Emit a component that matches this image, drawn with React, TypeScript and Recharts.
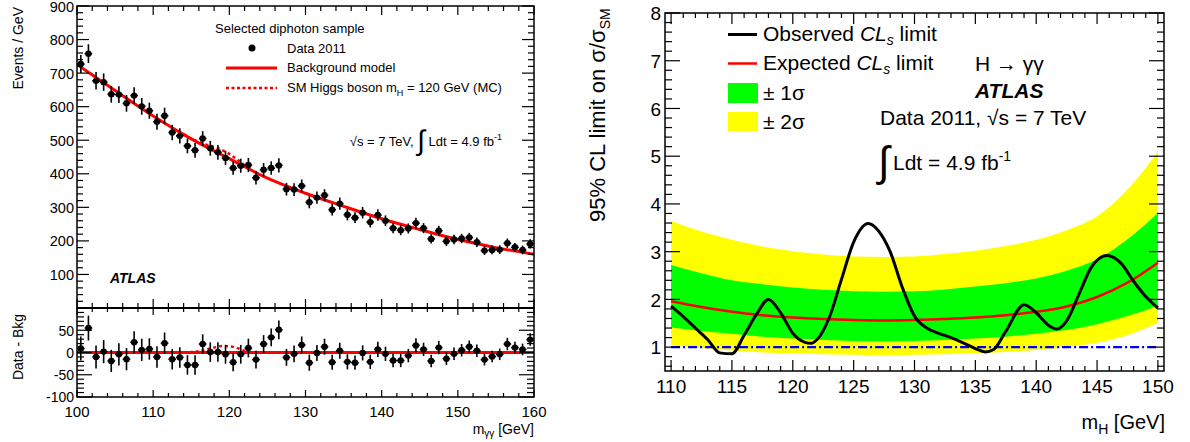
import React from 'react';
import { ComposedChart, Line, Scatter, ErrorBar, XAxis, YAxis, Area } from 'recharts';

const FONT = '"Liberation Sans", Arial, Helvetica, sans-serif';

// ---------- left: diphoton invariant mass, 1 GeV bins ----------
const binCentres = [
  100.5, 101.5, 102.5, 103.5, 104.5, 105.5, 106.5, 107.5, 108.5, 109.5,
  110.5, 111.5, 112.5, 113.5, 114.5, 115.5, 116.5, 117.5, 118.5, 119.5,
  120.5, 121.5, 122.5, 123.5, 124.5, 125.5, 126.5, 127.5, 128.5, 129.5,
  130.5, 131.5, 132.5, 133.5, 134.5, 135.5, 136.5, 137.5, 138.5, 139.5,
  140.5, 141.5, 142.5, 143.5, 144.5, 145.5, 146.5, 147.5, 148.5, 149.5,
  150.5, 151.5, 152.5, 153.5, 154.5, 155.5, 156.5, 157.5, 158.5, 159.5,
];
const events = [
  727, 758, 677, 673, 637, 636, 610, 633, 601, 588,
  555, 573, 523, 513, 483, 470, 505, 476, 464, 447,
  417, 424, 426, 388, 412, 417, 425, 354, 353, 364,
  315, 329, 336, 293, 311, 278, 269, 284, 256, 277,
  260, 238, 232, 237, 253, 238, 206, 230, 199, 204,
  207, 210, 196, 171, 173, 174, 193, 181, 173, 191,
];
const eventErr = [
  27, 28, 26, 26, 25, 25, 25, 25, 25, 24,
  24, 24, 23, 23, 22, 22, 22, 22, 22, 21,
  20, 21, 21, 20, 20, 20, 21, 19, 19, 19,
  18, 18, 18, 17, 18, 17, 16, 17, 16, 17,
  16, 15, 15, 15, 16, 15, 14, 15, 14, 14,
  14, 14, 14, 13, 13, 13, 14, 13, 13, 14,
];
const residuals = [
  9, 55, -10, 2, -19, -4, -15, 23, 6, 8,
  -10, 21, -15, -11, -28, -28, 19, 1, 1, -4,
  -22, -4, 10, -16, 19, 34, 51, -11, -3, 17,
  -23, -1, 13, -22, 4, -21, -23, -1, -21, 7,
  -3, -18, -18, -7, 16, 7, -19, 11, -14, -3,
  5, 13, 4, -16, -9, -4, 19, 11, 7, 29,
];

const bkgMass = [100, 105, 110, 115, 120, 125, 130, 135, 140, 145, 150, 155, 160];
const bkgEvents = [726, 648, 572, 504, 445, 387, 342, 303, 266, 234, 204, 180, 160];

const sigMass = [114, 115, 116, 117, 118, 119, 120, 121, 122, 123];
const sigOnBkg = [518, 505, 495, 487, 480, 471, 459, 443, 426, 410];
const sigResid = [0, 1, 3, 7, 11, 14.5, 14, 10, 4, 0];

// ---------- right: CLs limit vs mH ----------
const bandMass = [110, 112.5, 115, 117.5, 120, 122.5, 125, 127.5, 130, 132.5, 135, 137.5, 140, 142.5, 145, 147.5, 150];
const expected = [1.96, 1.84, 1.74, 1.67, 1.62, 1.59, 1.57, 1.56, 1.57, 1.59, 1.62, 1.67, 1.74, 1.85, 2.05, 2.35, 2.77];
const yellowHi = [3.65, 3.42, 3.25, 3.11, 3.01, 2.94, 2.9, 2.89, 2.9, 2.95, 3.02, 3.12, 3.25, 3.45, 3.74, 4.3, 5.1];
const greenHi = [2.72, 2.55, 2.4, 2.32, 2.25, 2.2, 2.17, 2.16, 2.17, 2.21, 2.27, 2.34, 2.44, 2.6, 2.84, 3.26, 3.81];
const greenLo = [1.41, 1.34, 1.28, 1.22, 1.18, 1.15, 1.13, 1.12, 1.13, 1.15, 1.18, 1.22, 1.28, 1.36, 1.48, 1.65, 1.86];
const yellowLo = [1.04, 0.98, 0.93, 0.89, 0.87, 0.85, 0.84, 0.83, 0.84, 0.85, 0.87, 0.9, 0.94, 1.0, 1.09, 1.25, 1.51];

const obsMass = [
  110, 111, 112, 113, 114, 115, 116, 117, 118, 119, 120, 121, 121.5, 122, 123, 124, 125, 126.2, 127, 128,
  129, 130, 131, 132, 133, 134, 135, 135.8, 136.5, 137.5, 139, 140, 141, 141.7, 142.5, 143.5, 144.5, 145.8,
  147, 148, 149, 150,
];
const obsLimit = [
  1.86, 1.64, 1.4, 1.16, 0.88, 0.86, 1.25, 1.68, 2.0, 1.72, 1.29, 1.1, 1.08, 1.16, 1.62, 2.42, 3.2, 3.59, 3.45, 3.0,
  2.25, 1.65, 1.4, 1.29, 1.2, 1.09, 0.97, 0.9, 0.95, 1.33, 1.89, 1.72, 1.46, 1.38, 1.55, 2.1, 2.66, 2.92,
  2.75, 2.38, 2.06, 1.82,
];
const smLineMass = [110, 150];
const smLineValue = [1, 1];

// ---------- ticks ----------
const steps = (a: number, b: number, s: number) => {
  const out: number[] = [];
  for (let v = a; v <= b + 1e-9; v += s) out.push(Math.round(v * 1000) / 1000);
  return out;
};
const massMajor = [100, 110, 120, 130, 140, 150, 160];
const eventsMajor = [100, 200, 300, 400, 500, 600, 700, 800, 900];
const residMajor = [-100, -50, 0, 50, 100];
const residLabels = [-100, -50, 0, 50];
const mhMajor = [110, 115, 120, 125, 130, 135, 140, 145, 150];
const limitMajor = [1, 2, 3, 4, 5, 6, 7, 8];

// ---------- rows ----------
const dataRows = binCentres.map((x, i) => ({ x, y: events[i], err: eventErr[i], xerr: 0.5 }));
const residRows = binCentres.map((x, i) => ({ x, y: residuals[i], err: eventErr[i], xerr: 0.5 }));
const bkgRows = bkgMass.map((x, i) => ({ x, y: bkgEvents[i] }));
const sigRows = sigMass.map((x, i) => ({ x, y: sigOnBkg[i] }));
const sigResRows = sigMass.map((x, i) => ({ x, y: sigResid[i] }));
const zeroRows = [{ x: 100, y: 0 }, { x: 160, y: 0 }];
const bandRows = bandMass.map((m, i) => ({
  m,
  exp: expected[i],
  yellow: [yellowLo[i], yellowHi[i]],
  green: [greenLo[i], greenHi[i]],
}));
const obsRows = obsMass.map((m, i) => ({ m, v: obsLimit[i] }));
const smRows = smLineMass.map((m, i) => ({ m, v: smLineValue[i] }));

interface Frame { top: number; bottom: number; left: number; right: number }

const has = (arr: number[], v: number) => arr.some((a) => Math.abs(a - v) < 1e-6);

const xTick = (f: Frame, major: number[], long: number, short: number, labels: number[], fs: number, gap: number) =>
  (props: any) => {
    const x = props.x;
    const v = props.payload.value;
    const len = has(major, v) ? long : short;
    return (
      <g>
        <line x1={x} x2={x} y1={f.bottom} y2={f.bottom - len} stroke="#000" strokeWidth={1.2} />
        <line x1={x} x2={x} y1={f.top} y2={f.top + len} stroke="#000" strokeWidth={1.2} />
        {has(labels, v) && (
          <text x={x} y={f.bottom + gap} textAnchor="middle" fontSize={fs} fontFamily={FONT} fill="#000">{v}</text>
        )}
      </g>
    );
  };

const yTick = (f: Frame, major: number[], long: number, short: number, labels: number[], fs: number, gap: number) =>
  (props: any) => {
    const y = props.y;
    const v = props.payload.value;
    const len = has(major, v) ? long : short;
    return (
      <g>
        <line x1={f.left} x2={f.left + len} y1={y} y2={y} stroke="#000" strokeWidth={1.2} />
        <line x1={f.right} x2={f.right - len} y1={y} y2={y} stroke="#000" strokeWidth={1.2} />
        {has(labels, v) && (
          <text x={f.left - gap} y={y} dy="0.38em" textAnchor="end" fontSize={fs} fontFamily={FONT} fill="#000">{v}</text>
        )}
      </g>
    );
  };

const dot = (p: any) => <circle cx={p.cx} cy={p.cy} r={3.2} fill="#000" />;

const FA: Frame = { top: 6, bottom: 308, left: 77, right: 534 };
const FB: Frame = { top: 8, bottom: 97, left: 77, right: 534 };
const FC: Frame = { top: 13, bottom: 371, left: 85, right: 584 };

const UpperLeft = () => (
  <ComposedChart width={560} height={320} margin={{ top: 6, right: 26, bottom: 0, left: 0 }}>
    <XAxis dataKey="x" type="number" domain={[100, 160]} allowDataOverflow ticks={steps(100, 160, 2)} interval={0}
      height={12} tickSize={0} tickMargin={0} axisLine={false} tickLine={false}
      tick={xTick(FA, massMajor, 9, 5, [], 14, 0)} />
    <YAxis type="number" domain={[0, 900]} allowDataOverflow ticks={steps(0, 900, 20)} interval={0}
      width={77} tickSize={0} tickMargin={0} axisLine={false} tickLine={false}
      tick={yTick(FA, eventsMajor, 12, 6, eventsMajor, 14.5, 3)} />
    <Line data={bkgRows} dataKey="y" type="monotone" stroke="#ff0000" strokeWidth={3} dot={false} isAnimationActive={false} />
    <Line data={sigRows} dataKey="y" type="monotone" stroke="#ff0000" strokeWidth={2.5} strokeDasharray="3 3" dot={false} isAnimationActive={false} />
    <Scatter data={dataRows} dataKey="y" shape={dot} isAnimationActive={false}>
      <ErrorBar dataKey="err" direction="y" width={0} stroke="#000" strokeWidth={1.6} isAnimationActive={false} />
      <ErrorBar dataKey="xerr" direction="x" width={0} stroke="#000" strokeWidth={1.6} isAnimationActive={false} />
    </Scatter>
  </ComposedChart>
);

const LowerLeft = () => (
  <ComposedChart width={560} height={142} margin={{ top: 8, right: 26, bottom: 0, left: 0 }}>
    <XAxis dataKey="x" type="number" domain={[100, 160]} allowDataOverflow ticks={steps(100, 160, 2)} interval={0}
      height={45} tickSize={0} tickMargin={0} axisLine={false} tickLine={false}
      tick={xTick(FB, massMajor, 7, 4, massMajor, 15, 20)} />
    <YAxis type="number" domain={[-100, 100]} allowDataOverflow ticks={steps(-100, 100, 10)} interval={0}
      width={77} tickSize={0} tickMargin={0} axisLine={false} tickLine={false}
      tick={yTick(FB, residMajor, 15, 7, residLabels, 14, 3)} />
    <Line data={zeroRows} dataKey="y" stroke="#ff0000" strokeWidth={3} dot={false} isAnimationActive={false} />
    <Line data={sigResRows} dataKey="y" type="monotone" stroke="#ff0000" strokeWidth={2.5} strokeDasharray="3 3" dot={false} isAnimationActive={false} />
    <Scatter data={residRows} dataKey="y" shape={dot} isAnimationActive={false}>
      <ErrorBar dataKey="err" direction="y" width={0} stroke="#000" strokeWidth={1.6} isAnimationActive={false} />
      <ErrorBar dataKey="xerr" direction="x" width={0} stroke="#000" strokeWidth={1.6} isAnimationActive={false} />
    </Scatter>
  </ComposedChart>
);

const RightLimit = () => (
  <ComposedChart width={610} height={442} data={bandRows} margin={{ top: 13, right: 26, bottom: 0, left: 0 }}>
    <XAxis dataKey="m" type="number" domain={[109.5, 150.5]} allowDataOverflow ticks={steps(110, 150, 1)} interval={0}
      height={71} tickSize={0} tickMargin={0} axisLine={false} tickLine={false}
      tick={xTick(FC, mhMajor, 11, 5, mhMajor, 19, 22)} />
    <YAxis type="number" domain={[0.5, 8]} allowDataOverflow ticks={steps(0.6, 8, 0.2)} interval={0}
      width={85} tickSize={0} tickMargin={0} axisLine={false} tickLine={false}
      tick={yTick(FC, limitMajor, 15, 7, limitMajor, 19, 4)} />
    <Area dataKey="yellow" type="monotone" fill="#ffff00" fillOpacity={1} stroke="none" isAnimationActive={false} />
    <Area dataKey="green" type="monotone" fill="#00ff00" fillOpacity={1} stroke="none" isAnimationActive={false} />
    <Line data={smRows} dataKey="v" stroke="#0000ff" strokeWidth={2.4} strokeDasharray="9 3 2 3" dot={false} isAnimationActive={false} />
    <Line dataKey="exp" type="monotone" stroke="#ff0000" strokeWidth={2.5} dot={false} isAnimationActive={false} />
    <Line data={obsRows} dataKey="v" type="monotone" stroke="#000" strokeWidth={3} dot={false} isAnimationActive={false} />
  </ComposedChart>
);

export default function App() {
  return (
    <div style={{ position: 'absolute', left: 0, top: 0, width: 1190, height: 442, background: '#fff' }}>
      <div style={{ position: 'absolute', left: 0, top: 0 }}><UpperLeft /></div>
      <div style={{ position: 'absolute', left: 0, top: 300 }}><LowerLeft /></div>
      <div style={{ position: 'absolute', left: 580, top: 0 }}><RightLimit /></div>
      <svg width={1190} height={442} style={{ position: 'absolute', left: 0, top: 0, pointerEvents: 'none' }} fontFamily={FONT}>
        {/* frames */}
        <rect x={77} y={6} width={457} height={391} fill="none" stroke="#000" strokeWidth={1.5} />
        <line x1={77} x2={534} y1={308} y2={308} stroke="#000" strokeWidth={2} />
        <rect x={665} y={13} width={499} height={358} fill="none" stroke="#000" strokeWidth={1.5} />

        {/* left axis titles */}
        <text transform="translate(23,7) rotate(-90)" textAnchor="end" fontSize={14}>Events / GeV</text>
        <text transform="translate(23,347) rotate(-90)" textAnchor="middle" fontSize={14}>Data - Bkg</text>
        <text x={534} y={434} textAnchor="end" fontSize={14}>
          m<tspan fontSize={10} dy={3}>γγ</tspan><tspan dy={-3}> [GeV]</tspan>
        </text>

        {/* left legend */}
        <text x={215} y={33} fontSize={13}>Selected diphoton sample</text>
        <circle cx={252} cy={48} r={3.5} fill="#000" />
        <text x={287} y={53} fontSize={13}>Data 2011</text>
        <line x1={226} x2={277} y1={68} y2={68} stroke="#ff0000" strokeWidth={3} />
        <text x={287} y={72} fontSize={13}>Background model</text>
        <line x1={226} x2={277} y1={88} y2={88} stroke="#ff0000" strokeWidth={2.5} strokeDasharray="3 2.5" />
        <text x={287} y={92} fontSize={13}>
          SM Higgs boson m<tspan fontSize={9} dy={4}>H</tspan><tspan dy={-4}> = 120 GeV (MC)</tspan>
        </text>
        <text x={502} y={146} textAnchor="end" fontSize={13}>
          √s = 7 TeV, <tspan fontSize={28} dy={4}>∫</tspan><tspan dy={-4}> Ldt = 4.9 fb</tspan><tspan fontSize={9} dy={-6}>-1</tspan>
        </text>
        <text x={110} y={283} fontSize={14} fontWeight="bold" fontStyle="italic">ATLAS</text>

        {/* right axis titles */}
        <text transform="translate(605,222) rotate(-90)" fontSize={22}>
          95% CL limit on σ/σ<tspan fontSize={14} dy={5}>SM</tspan>
        </text>
        <text x={1165} y={429} textAnchor="end" fontSize={20}>
          m<tspan fontSize={14} dy={5}>H</tspan><tspan dy={-5}> [GeV]</tspan>
        </text>

        {/* right legend */}
        <line x1={728} x2={757} y1={34.5} y2={34.5} stroke="#000" strokeWidth={3} />
        <text x={763} y={41} fontSize={21}>
          Observed <tspan fontStyle="italic">CL</tspan><tspan fontStyle="italic" fontSize={14} dy={4}>s</tspan><tspan dy={-4}> limit</tspan>
        </text>
        <line x1={728} x2={757} y1={63.5} y2={63.5} stroke="#ff0000" strokeWidth={2.5} />
        <text x={763} y={70} fontSize={21}>
          Expected <tspan fontStyle="italic">CL</tspan><tspan fontStyle="italic" fontSize={14} dy={4}>s</tspan><tspan dy={-4}> limit</tspan>
        </text>
        <rect x={728} y={83} width={30} height={20} fill="#00ff00" />
        <text x={763} y={100} fontSize={21}>± 1σ</text>
        <rect x={728} y={112} width={30} height={19} fill="#ffff00" />
        <text x={763} y={129} fontSize={21}>± 2σ</text>

        <text x={975} y={71} fontSize={21}>H → γγ</text>
        <text x={975} y={98} fontSize={21} fontWeight="bold" fontStyle="italic">ATLAS</text>
        <text x={880} y={125} fontSize={21}>Data 2011, √s = 7 TeV</text>
        <text x={878} y={176} fontSize={42}>∫</text>
        <text x={893} y={170} fontSize={21}>
          Ldt = 4.9 fb<tspan fontSize={14} dy={-9}>-1</tspan>
        </text>
      </svg>
    </div>
  );
}
